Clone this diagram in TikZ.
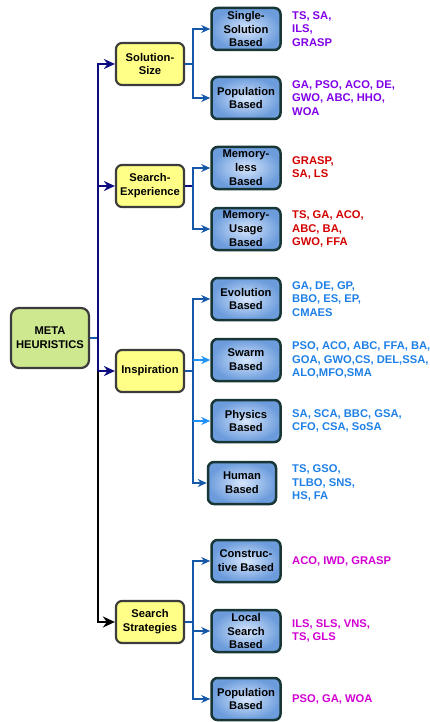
\documentclass[tikz,border=0pt]{standalone}
\usepackage{fontspec}
\setmainfont{Liberation Sans}
\usepackage{xcolor}
\usetikzlibrary{arrows.meta, positioning, calc}

\definecolor{trunkblue}{RGB}{12,12,128}
\definecolor{busblue}{RGB}{22,88,168}
\definecolor{lightblue}{RGB}{30,144,250}
\definecolor{boxgray}{RGB}{60,60,60}
\definecolor{subborder}{RGB}{24,54,54}
\definecolor{rootgreen}{RGB}{206,232,144}
\definecolor{catyellow}{RGB}{255,255,136}
\definecolor{subin}{RGB}{214,230,252}
\definecolor{subout}{RGB}{108,156,220}
\definecolor{algopurple}{RGB}{128,0,232}
\definecolor{algored}{RGB}{210,0,0}
\definecolor{algoblue}{RGB}{30,128,230}
\definecolor{algomagenta}{RGB}{210,0,210}

\begin{document}
\begin{tikzpicture}[x=1pt, y=-1pt,
    font={\fontsize{11.2}{13.8}\selectfont\bfseries},
    rootbox/.style={draw=boxgray, line width=2.2pt, rounded corners=8pt, fill=rootgreen,
        minimum width=78pt, minimum height=60pt, align=center, inner sep=1pt},
    catbox/.style={draw=boxgray, line width=2.2pt, rounded corners=6pt, fill=catyellow,
        minimum width=68pt, minimum height=42pt, align=center, inner sep=1pt},
    subbox/.style={draw=subborder, line width=2.5pt, rounded corners=6pt,
        inner color=subin, outer color=subout,
        minimum width=69pt, minimum height=42pt, align=center, inner sep=1pt},
    algo/.style={anchor=west, align=left, inner sep=0pt},
    bigarrow/.style={-{Stealth[length=11pt, width=10pt]}, line width=2.4pt},
    smallarrow/.style={-{Stealth[length=9pt, width=8pt]}, line width=2.2pt},
]
    \useasboundingbox (0,0) rectangle (430,722);

    % Root
    \node[rootbox] (root) at (50,338) {META\\HEURISTICS};

    % Categories
    \node[catbox] (size)  at (150,64)  {Solution-\\Size};
    \node[catbox] (exper) at (150,186) {Search-\\Experience};
    \node[catbox] (insp)  at (150,371) {Inspiration};
    \node[catbox] (strat) at (150,622) {Search\\Strategies};

    % Sub-classes
    \node[subbox] (single) at (246,29)  {Single-\\Solution\\Based};
    \node[subbox] (popa)   at (246,98)  {Population\\Based};
    \node[subbox] (mless)  at (246,168) {Memory-\\less\\Based};
    \node[subbox] (musage) at (246,229) {Memory-\\Usage\\Based};
    \node[subbox] (evo)    at (246,299) {Evolution\\Based};
    \node[subbox] (swarm)  at (246,360) {Swarm\\Based};
    \node[subbox] (phys)   at (246,421) {Physics\\Based};
    \node[subbox, minimum width=68pt] (human) at (242,483) {Human\\Based};
    \node[subbox] (constr) at (246,561) {Construc-\\tive Based};
    \node[subbox] (local)  at (246,631) {Local\\Search\\Based};
    \node[subbox] (popb)   at (246,699) {Population\\Based};

    % Algorithms
    \node[algo, text=algopurple] (t1) at (292,29)  {TS, SA,\\ILS,\\GRASP};
    \node[algo, text=algopurple] (t2) at (292,98)  {GA, PSO, ACO, DE,\\GWO, ABC, HHO,\\WOA};
    \node[algo, text=algored] (t3) at (292,168) {GRASP,\\SA, LS};
    \node[algo, text=algored] (t4) at (292,229) {TS, GA, ACO,\\ABC, BA,\\GWO, FFA};
    \node[algo, text=algoblue] (t5) at (292,299) {GA, DE, GP,\\BBO, ES, EP,\\CMAES};
    \node[algo, text=algoblue] (t6) at (292,360) {PSO, ACO, ABC, FFA, BA,\\GOA, GWO,CS, DEL,SSA,\\ALO,MFO,SMA};
    \node[algo, text=algoblue] (t7) at (292,421) {SA, SCA, BBC, GSA,\\CFO, CSA, SoSA};
    \node[algo, text=algoblue] (t8) at (292,483) {TS, GSO,\\TLBO, SNS,\\HS, FA};
    \node[algo, text=algomagenta] (t9) at (292,561) {ACO, IWD, GRASP};
    \node[algo, text=algomagenta] (t10) at (292,631) {ILS, SLS, VNS,\\TS, GLS};
    \node[algo, text=algomagenta] (t11) at (292,699) {PSO, GA, WOA};

    \coordinate (trunkx) at (98,0);
    \coordinate (busx) at (193,0);

    % Trunk
    \draw[busblue, line width=2.4pt] (root.east) -- (root.east -| trunkx);
    \draw[bigarrow, black, -{Stealth[length=12pt, width=11pt]}] (insp.west -| trunkx) |- (strat.west);
    \draw[bigarrow, trunkblue] (insp.west -| trunkx) |- (size.west);
    \draw[bigarrow, trunkblue] (insp.west -| trunkx) |- (exper.west);
    \draw[bigarrow, trunkblue] (insp.west -| trunkx) -- (insp.west);

    % Solution-Size
    \draw[busblue, line width=2.2pt] (size.east) -- (size.east -| busx);
    \draw[smallarrow, busblue] (size.east -| busx) |- (single.west);
    \draw[smallarrow, busblue] (size.east -| busx) |- (popa.west);

    % Search-Experience
    \draw[trunkblue, line width=2.2pt] (exper.east) -- (exper.east -| busx);
    \draw[smallarrow, busblue] (exper.east -| busx) |- (mless.west);
    \draw[smallarrow, busblue] (exper.east -| busx) |- (musage.west);

    % Inspiration
    \draw[busblue, line width=2.2pt] (insp.east) -- (insp.east -| busx);
    \draw[smallarrow, busblue] (insp.east -| busx) |- (evo.west);
    \draw[smallarrow, busblue] (insp.east -| busx) |- (human.west);
    \draw[smallarrow, lightblue] (swarm.west -| busx) -- (swarm.west);
    \draw[smallarrow, lightblue] (phys.west -| busx) -- (phys.west);

    % Search Strategies
    \draw[busblue, line width=2.2pt] (strat.east) -- (strat.east -| busx);
    \draw[smallarrow, busblue] (strat.east -| busx) |- (constr.west);
    \draw[smallarrow, busblue] (strat.east -| busx) |- (local.west);
    \draw[smallarrow, busblue] (strat.east -| busx) |- (popb.west);
\end{tikzpicture}
\end{document}
